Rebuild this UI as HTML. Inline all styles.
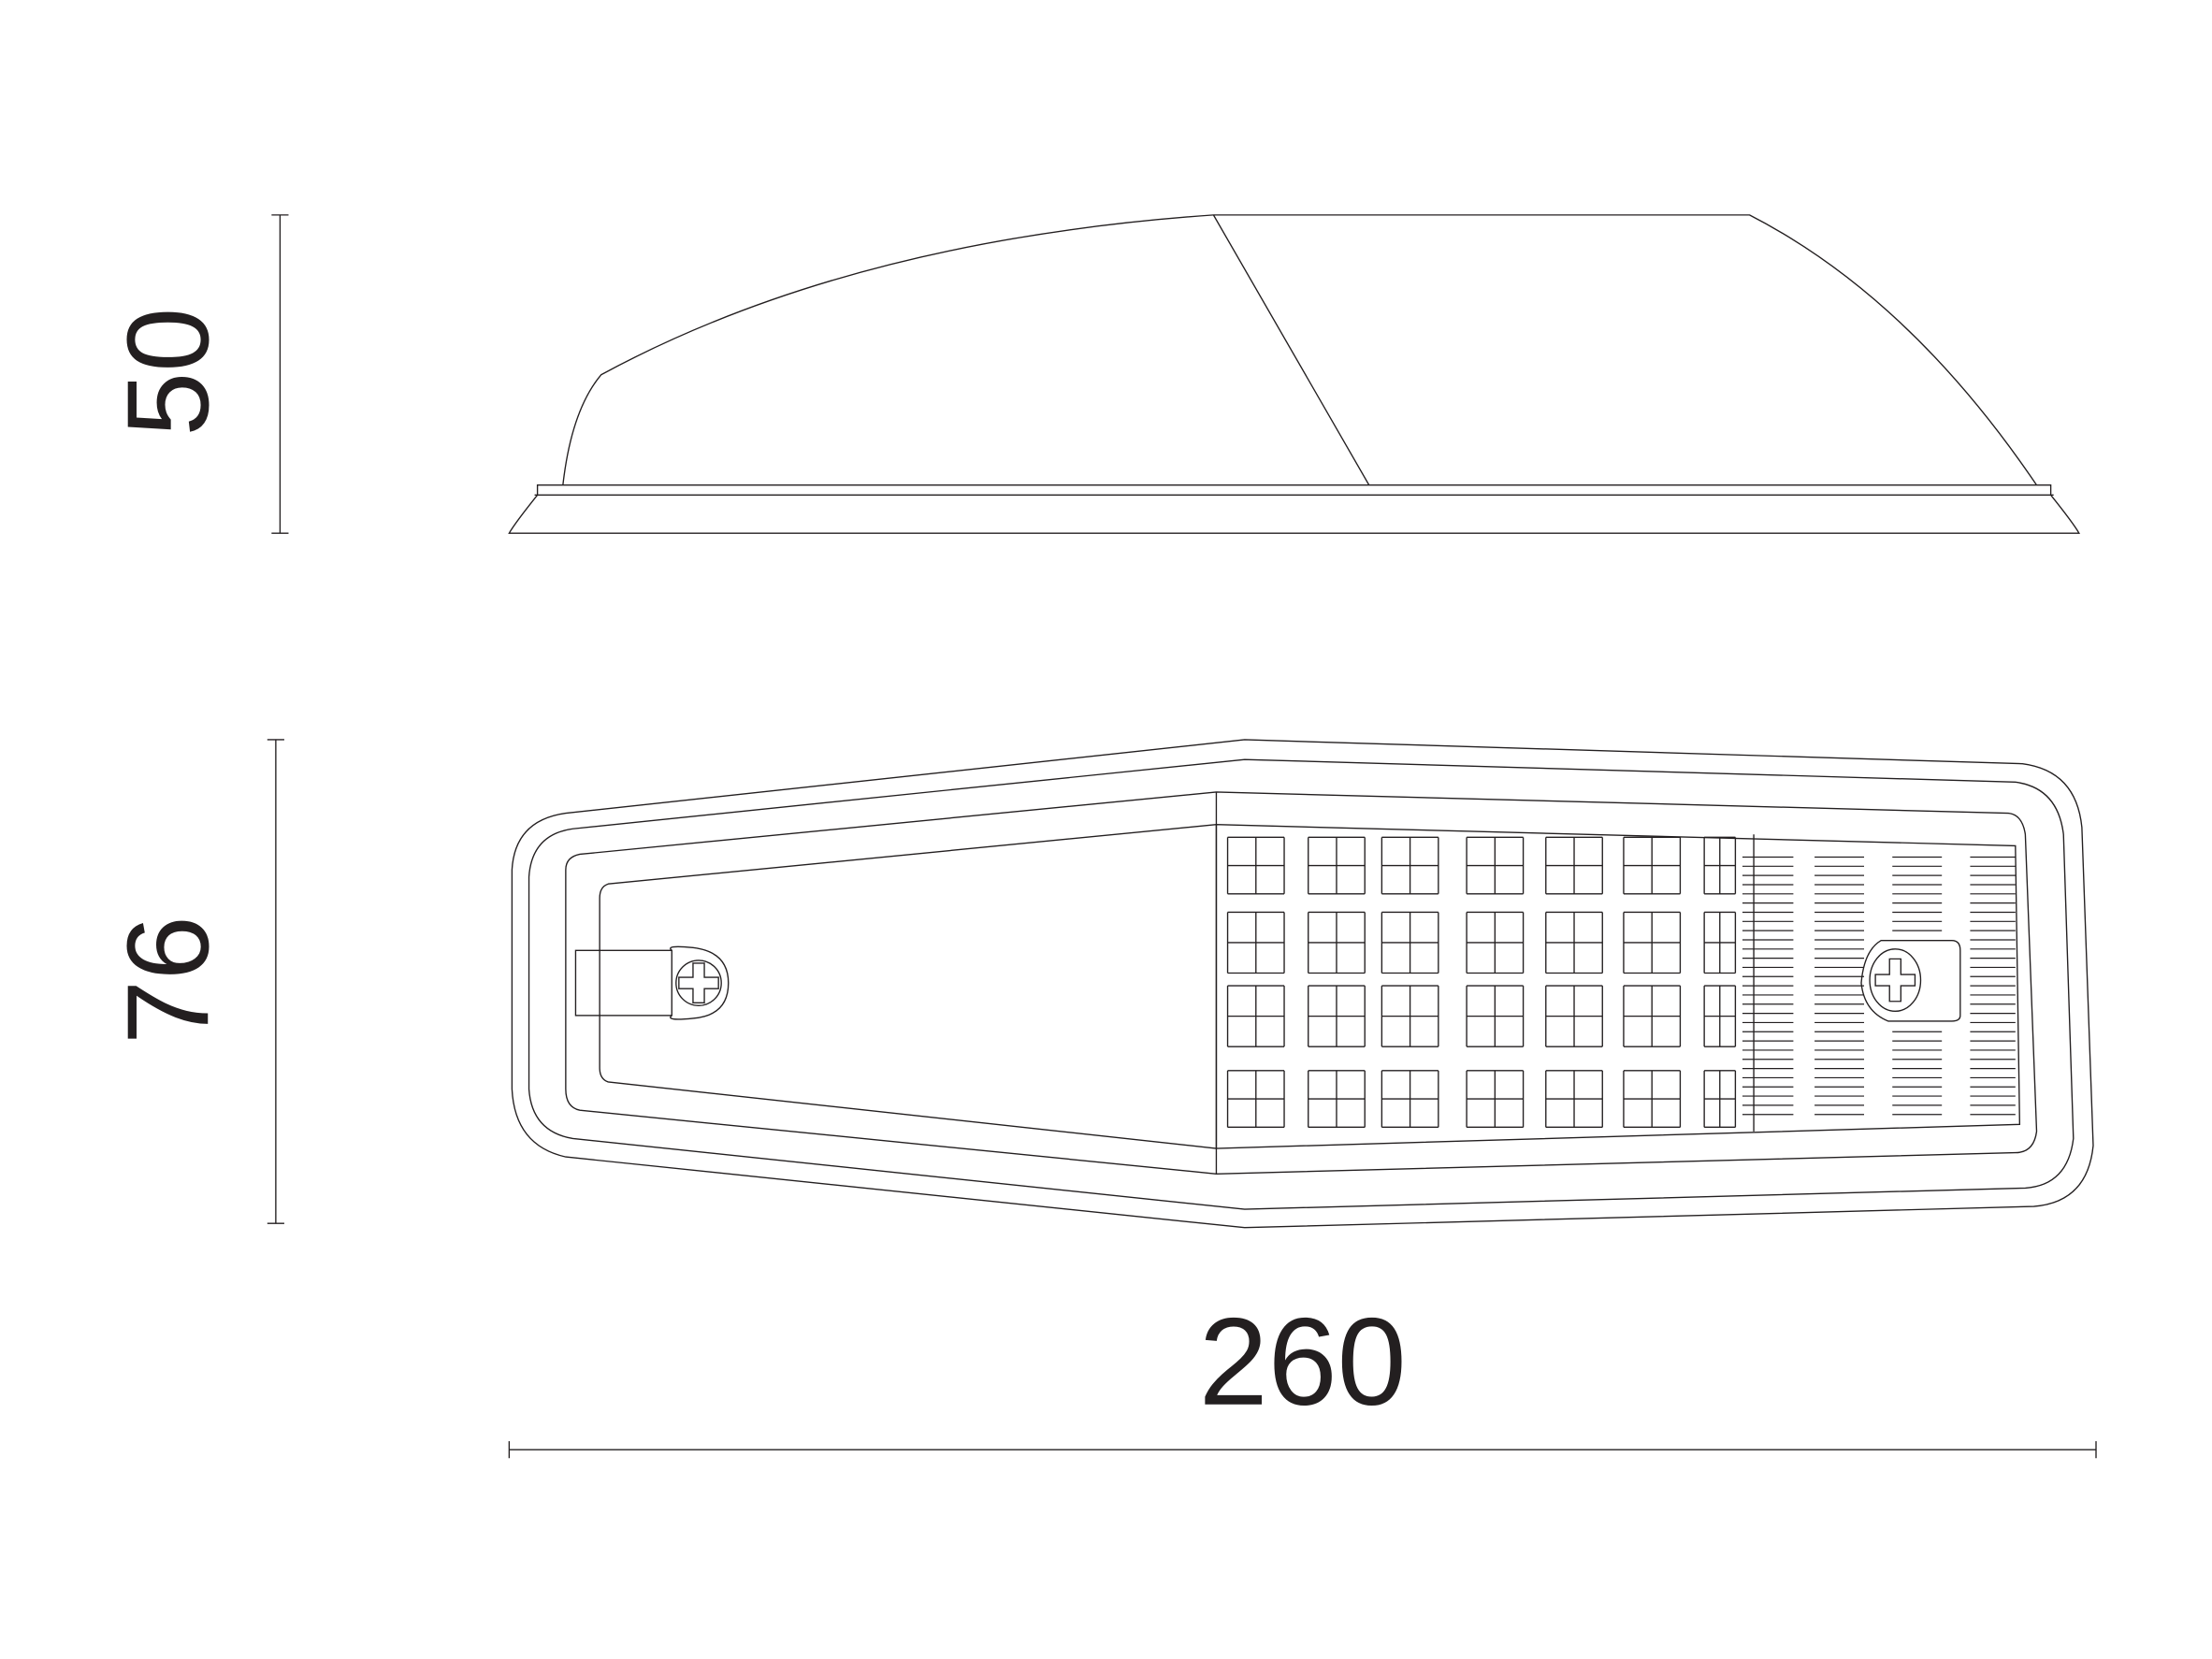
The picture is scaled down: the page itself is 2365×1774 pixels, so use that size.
<!DOCTYPE html>
<html><head><meta charset="utf-8"><style>
html,body{margin:0;padding:0;background:#fff;}
svg{display:block;}
text{font-family:"Liberation Sans",sans-serif;fill:#231f20;}
</style></head><body>
<svg id="d" width="2365" height="1774" viewBox="0 0 1564 1173" preserveAspectRatio="none" xmlns="http://www.w3.org/2000/svg">
<rect width="1564" height="1173" fill="#fff"/>
<g fill="none" stroke="#231f20" stroke-width="0.9">
 <g>
  <line x1="198" y1="152" x2="198" y2="377"/><line x1="192" y1="152" x2="204" y2="152"/><line x1="192" y1="377" x2="204" y2="377"/>
 </g>
 <g>
  <path d="M360 377 L1470 377 Q1466 370 1450 350 L1450 343 L380 343 L380 350 Q364 370 360 377 Z"/>
  <line x1="378" y1="350" x2="1452" y2="350"/>
  <path d="M398 343 Q404 290 425 265 Q600 170 858 152 L1237 152 Q1350 210 1440 343"/>
  <line x1="858" y1="152" x2="968" y2="343"/>
 </g>
 <g>
  <line x1="195" y1="523" x2="195" y2="865"/><line x1="189" y1="523" x2="201" y2="523"/><line x1="189" y1="865" x2="201" y2="865"/>
 </g>
 <g>
  <path d="M880 523 L1430 540 Q1468 545 1472 585 L1480 810 Q1476 850 1438 853 L880 868 L400 818 Q364 810 362 770 L362 615 Q364 580 400 575 Z"/>
  <path d="M880 537 L1425 553 Q1455 557 1459 590 L1466 805 Q1462 838 1432 840 L880 855 L405 805 Q376 800 374 770 L374 620 Q376 590 405 586 Z"/>
  <path d="M860 560 L1420 575 Q1430 576 1432 590 L1440 800 Q1438 815 1425 815 L860 830 L410 785 Q400 783 400 770 L400 615 Q400 606 410 604 Z"/>
  <path d="M860 583 L1425 598 L1428 795 L860 812 Z"/>
  <path d="M860 583 L430 625 Q424 627 424 635 L424 755 Q424 763 430 765 L860 812"/>
  <line x1="860" y1="560" x2="860" y2="830"/>
  <line x1="1240" y1="590" x2="1240" y2="800"/>
  <rect x="407" y="672" width="68" height="46"/>
  <path d="M475 672 Q470 668 490 670 Q515 673 515 695 Q515 718 490 720 Q470 722 475 718"/>
  <circle cx="494" cy="695" r="16"/>
  <path d="M490 681 h8 v10 h10 v8 h-10 v10 h-8 v-10 h-10 v-8 h10 Z"/>
  <path d="M1330 665 L1380 665 Q1386 665 1386 672 L1386 718 Q1386 722 1380 722 L1335 722 Q1318 715 1316 695 Q1318 672 1330 665 Z"/>
  <ellipse cx="1340" cy="693" rx="18" ry="22"/>
  <path d="M1336 678 h8 v11 h10 v8 h-10 v11 h-8 v-11 h-10 v-8 h10 Z"/>
  <g id="grid"></g>
  <g id="stripes" stroke-width="0.8"></g>
 </g>
 <g>
  <line x1="360" y1="1025" x2="1482" y2="1025"/><line x1="360" y1="1019" x2="360" y2="1031"/><line x1="1482" y1="1019" x2="1482" y2="1031"/>
 </g>
</g>
<text x="0" y="0" font-size="82" text-anchor="middle" transform="translate(147,263) rotate(-90)">50</text>
<text x="0" y="0" font-size="82" text-anchor="middle" transform="translate(147,693) rotate(-90)">76</text>
<text x="921" y="993" font-size="88" text-anchor="middle">260</text>
</svg>
<script>
const cols=[868,925,977,1037,1093,1148,1205];
const rows=[[592,632],[645,688],[697,740],[757,797]];
const g=document.getElementById('grid');
const ns='http://www.w3.org/2000/svg';
cols.forEach((x,ci)=>rows.forEach(([y1,y2])=>{
 const w=ci===6?22:40;
 const p=document.createElementNS(ns,'path');
 let d=`M${x} ${y1} h${w} M${x} ${y2} h${w} M${x} ${y1} v${y2-y1} M${x+w} ${y1} v${y2-y1} M${x} ${(y1+y2)/2} h${w} M${x+w/2} ${y1} v${y2-y1}`;
 p.setAttribute('d',d);
 
 
 g.appendChild(p);
}));
const s=document.getElementById('stripes');
const sx=[[1232,1268],[1283,1318],[1338,1373],[1393,1425]];
for(let y=606;y<=790;y+=6.5){
 sx.forEach(([a,b])=>{
  if(y>660&&y<728&&a>1300&&a<1390)return;
  const l=document.createElementNS(ns,'line');
  l.setAttribute('x1',a);l.setAttribute('x2',b);l.setAttribute('y1',y);l.setAttribute('y2',y);
  
  
  s.appendChild(l);
 });
}
</script>
</body></html>
